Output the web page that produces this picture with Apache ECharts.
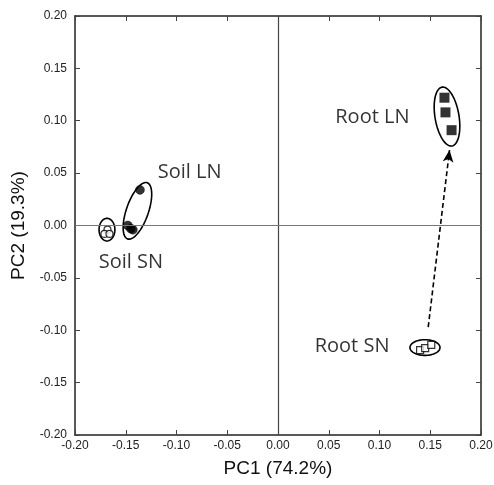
<!DOCTYPE html>
<html>
<head>
<meta charset="utf-8">
<script src="https://cdn.jsdelivr.net/npm/echarts@6/dist/echarts.min.js"></script>
<style>html,body{margin:0;padding:0;background:#fff;}#c{width:494px;height:485px;}</style>
</head>
<body>
<div id="c"></div>
<script>
// ---- data ----
var xTicks = [-0.20,-0.15,-0.10,-0.05,0.00,0.05,0.10,0.15,0.20];
var yTicks = [-0.20,-0.15,-0.10,-0.05,0.00,0.05,0.10,0.15,0.20];
var soilSN = [[-0.168,-0.004],[-0.171,-0.008],[-0.166,-0.008]];
var soilLN = [[-0.136,0.034],[-0.148,0.000],[-0.145,-0.003],[-0.143,-0.004]];
var rootLN = [[0.164,0.122],[0.165,0.108],[0.171,0.091]];
var rootSN = [[0.140,-0.119],[0.145,-0.117],[0.151,-0.114]];
// ellipses: [cx, cy, semi-axis x, semi-axis y, rotation deg (clockwise)]
var ellipseSoilSN = [-0.1685,-0.004,0.0078,0.0108,0];
var ellipseSoilLN = [-0.1385,0.014,0.0108,0.0285,20];
var ellipseRootLN = [0.1665,0.104,0.0118,0.0285,-10];
var ellipseRootSN = [0.1448,-0.1165,0.0148,0.0075,0];
var arrowFrom = [0.148,-0.097];
var arrowTo = [0.169,0.072];
var groupNames = ['Root LN','Soil LN','Soil SN','Root SN'];
var groupLabelPos = [[0.093,0.103],[-0.087,0.051],[-0.145,-0.035],[0.073,-0.115]];
var xName = 'PC1 (74.2%)';
var yName = 'PC2 (19.3%)';

var chart = echarts.init(document.getElementById('c'));
var ellipses = [ellipseSoilSN, ellipseSoilLN, ellipseRootLN, ellipseRootSN];

function renderEllipse(params, api){
  var cx = api.value(0), cy = api.value(1), a = api.value(2), b = api.value(3), rot = api.value(4)*Math.PI/180;
  var pts = [];
  for (var i=0;i<72;i++){
    var t = i/72*2*Math.PI;
    var ex = a*Math.cos(t), ey = b*Math.sin(t);
    var rx = ex*Math.cos(rot) + ey*Math.sin(rot);
    var ry = -ex*Math.sin(rot) + ey*Math.cos(rot);
    pts.push(api.coord([cx+rx, cy+ry]));
  }
  return {type:'polygon', shape:{points:pts}, style:{fill:'none', stroke:'#000', lineWidth:1.6}};
}

var axisFont = 'Liberation Sans, Arial, sans-serif';
function fmt(v){ return v.toFixed(2); }

var option = {
  backgroundColor:'#fff',
  animation:false,
  grid:{left:75, right:13, top:16, bottom:50, outerBoundsMode:'none', containLabel:false},
  xAxis:[{
    type:'value', min:xTicks[0], max:xTicks[xTicks.length-1], interval:0.05, position:'bottom',
    axisLine:{show:true, onZero:false, lineStyle:{color:'#222', width:1.5}},
    axisTick:{show:true, inside:true, length:5, lineStyle:{color:'#444'}},
    splitLine:{show:false},
    axisLabel:{formatter:fmt, color:'#222', fontSize:12, fontFamily:axisFont, margin:5},
    name:xName, nameLocation:'middle', nameGap:24,
    nameTextStyle:{fontSize:19, color:'#111', fontFamily:axisFont}
  },{
    type:'value', min:xTicks[0], max:xTicks[xTicks.length-1], interval:0.05, position:'top',
    axisLine:{show:true, onZero:false, lineStyle:{color:'#222', width:1.5}},
    axisTick:{show:true, inside:true, length:5, lineStyle:{color:'#444'}},
    splitLine:{show:false}, axisLabel:{show:false}
  }],
  yAxis:[{
    type:'value', min:yTicks[0], max:yTicks[yTicks.length-1], interval:0.05, position:'left',
    axisLine:{show:true, onZero:false, lineStyle:{color:'#222', width:1.5}},
    axisTick:{show:true, inside:true, length:5, lineStyle:{color:'#444'}},
    splitLine:{show:false},
    axisLabel:{formatter:fmt, color:'#222', fontSize:12, fontFamily:axisFont, margin:8},
    name:yName, nameLocation:'middle', nameGap:47,
    nameTextStyle:{fontSize:19, color:'#111', fontFamily:axisFont}
  },{
    type:'value', min:yTicks[0], max:yTicks[yTicks.length-1], interval:0.05, position:'right',
    axisLine:{show:true, onZero:false, lineStyle:{color:'#222', width:1.5}},
    axisTick:{show:true, inside:true, length:5, lineStyle:{color:'#444'}},
    splitLine:{show:false}, axisLabel:{show:false}
  }],
  series:[
    {type:'scatter', data:[], silent:true,
     markLine:{silent:true, symbol:'none', label:{show:false},
       data:[{xAxis:0, lineStyle:{color:'#444', width:1.2, type:'solid'}},
             {yAxis:0, lineStyle:{color:'#777', width:1.2, type:'solid'}}]}},
    {type:'custom', renderItem:renderEllipse, data:ellipses, z:3, silent:true},
    {type:'scatter', data:soilSN, symbol:'circle', symbolSize:7, z:4,
     itemStyle:{color:'#fff', borderColor:'#000', borderWidth:1.2}},
    {type:'scatter', data:soilLN, symbol:'circle', symbolSize:9, z:4,
     itemStyle:{color:'#000', borderColor:'#000', borderWidth:0.5}},
    {type:'scatter', data:rootLN, symbol:'rect', symbolSize:10, z:4,
     itemStyle:{color:'#000'}},
    {type:'scatter', data:rootSN, symbol:'rect', symbolSize:7, z:4,
     itemStyle:{color:'#fff', borderColor:'#000', borderWidth:1.2}},
    {type:'scatter', data:[], silent:true,
     markLine:{silent:true, label:{show:false}, symbolSize:[8,12],
       lineStyle:{color:'#000', width:1.6, type:[5,3]},
       data:[[{coord:arrowFrom, symbol:'none'},{coord:arrowTo, symbol:'arrow'}]]}},
    {type:'scatter', symbolSize:0, silent:true, z:5,
     data:groupLabelPos.map(function(p,i){return {value:p, name:groupNames[i]};}),
     label:{show:true, position:'inside', formatter:'{b}', color:'#000', fontSize:20,
       fontFamily:'Open Sans, Lato, sans-serif'}}
  ]
};
chart.setOption(option);
</script>
</body>
</html>
